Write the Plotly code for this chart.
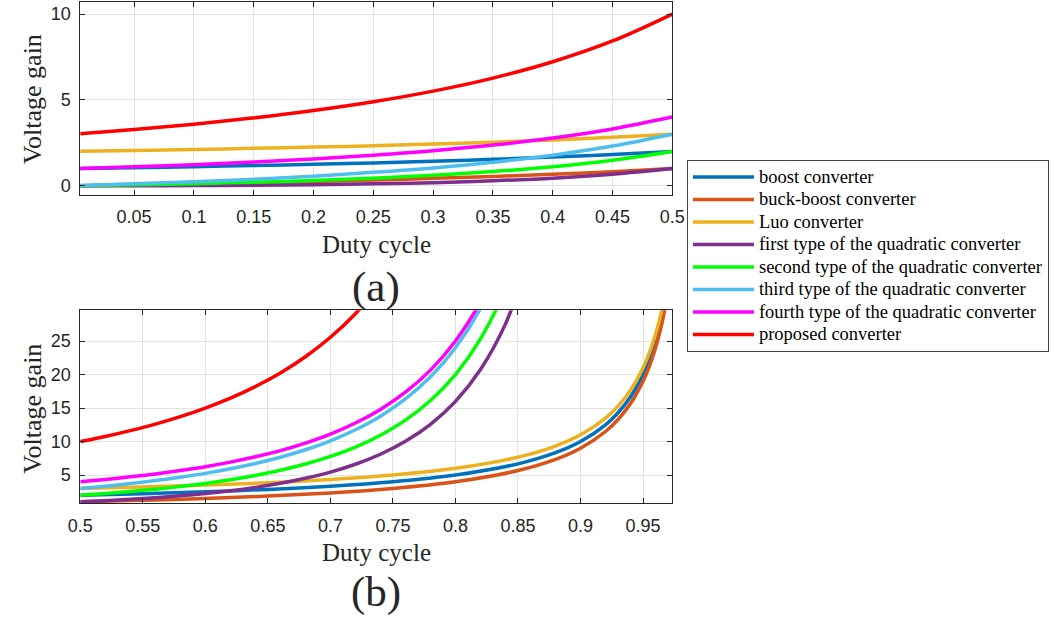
import plotly.graph_objects as go

W, H = 1054, 621

names = ["boost converter", "buck-boost converter", "Luo converter",
         "first type of the quadratic converter", "second type of the quadratic converter",
         "third type of the quadratic converter", "fourth type of the quadratic converter",
         "proposed converter"]
colors = ["#0072BD", "#D95319", "#EDB120", "#7E2F8E", "#00FF00", "#4DBEEE", "#FF00FF", "#FF0000"]

# ---- panel (a): duty cycle 0 .. 0.5 ----
d_a = [0.0, 0.05, 0.10, 0.15, 0.20, 0.25, 0.30, 0.35, 0.40, 0.45, 0.50]
boost_a = [1.00, 1.05, 1.11, 1.18, 1.25, 1.33, 1.43, 1.54, 1.67, 1.82, 2.00]
buckboost_a = [0.00, 0.05, 0.11, 0.18, 0.25, 0.33, 0.43, 0.54, 0.67, 0.82, 1.00]
luo_a = [2.00, 2.05, 2.11, 2.18, 2.25, 2.33, 2.43, 2.54, 2.67, 2.82, 3.00]
quad1_a = [0.00, 0.003, 0.012, 0.031, 0.063, 0.11, 0.18, 0.29, 0.44, 0.67, 1.00]
quad2_a = [0.00, 0.055, 0.12, 0.21, 0.31, 0.44, 0.61, 0.83, 1.11, 1.49, 2.00]
quad3_a = [0.00, 0.11, 0.23, 0.38, 0.56, 0.78, 1.04, 1.37, 1.78, 2.31, 3.00]
quad4_a = [1.00, 1.11, 1.23, 1.38, 1.56, 1.78, 2.04, 2.37, 2.78, 3.31, 4.00]
prop_a = [3.00, 3.27, 3.58, 3.95, 4.38, 4.89, 5.51, 6.27, 7.22, 8.43, 10.00]

# ---- panel (b): duty cycle 0.5 .. 0.97 ----
d_b_basic = [0.50, 0.55, 0.60, 0.65, 0.70, 0.75, 0.80, 0.85, 0.88, 0.90, 0.92, 0.93, 0.94,
             0.95, 0.955, 0.96, 0.965, 0.97]
boost_b = [2.00, 2.22, 2.50, 2.86, 3.33, 4.00, 5.00, 6.67, 8.33, 10.0, 12.5, 14.29, 16.67,
           20.0, 22.22, 25.0, 28.57, 33.33]
buckboost_b = [1.00, 1.22, 1.50, 1.86, 2.33, 3.00, 4.00, 5.67, 7.33, 9.0, 11.5, 13.29, 15.67,
               19.0, 21.22, 24.0, 27.57, 32.33]
luo_b = [3.00, 3.22, 3.50, 3.86, 4.33, 5.00, 6.00, 7.67, 9.33, 11.0, 13.5, 15.29, 17.67,
         21.0, 23.22, 26.0, 29.57, 34.33]

d_b_quad = [0.50, 0.52, 0.54, 0.56, 0.58, 0.60, 0.62, 0.64, 0.66, 0.68, 0.70, 0.72, 0.74,
            0.76, 0.78, 0.80, 0.82, 0.84, 0.86]
quad1_b = [1.00, 1.17, 1.38, 1.62, 1.91, 2.25, 2.66, 3.16, 3.77, 4.52, 5.44, 6.61, 8.10,
           10.03, 12.57, 16.0, 20.75, 27.56, 37.73]
quad2_b = [2.00, 2.26, 2.55, 2.89, 3.29, 3.75, 4.29, 4.94, 5.71, 6.64, 7.78, 9.18, 10.95,
           13.19, 16.12, 20.0, 25.31, 32.81, 43.88]
quad3_b = [3.00, 3.34, 3.73, 4.17, 4.67, 5.25, 5.93, 6.72, 7.65, 8.77, 10.11, 11.76, 13.79,
           16.36, 19.66, 24.0, 29.86, 38.06]
quad4_b = [4.00, 4.34, 4.73, 5.17, 5.67, 6.25, 6.93, 7.72, 8.65, 9.77, 11.11, 12.76, 14.79,
           17.36, 20.66, 25.0, 30.86, 39.06]
d_b_prop = [0.50, 0.52, 0.54, 0.56, 0.58, 0.60, 0.62, 0.64, 0.66, 0.68, 0.70, 0.72, 0.74]
prop_b = [10.0, 10.76, 11.63, 12.60, 13.72, 15.0, 16.48, 18.21, 20.24, 22.66, 25.56, 29.08, 33.43]

xticks_a = [0.05, 0.1, 0.15, 0.2, 0.25, 0.3, 0.35, 0.4, 0.45, 0.5]
xticktext_a = ["0.05", "0.1", "0.15", "0.2", "0.25", "0.3", "0.35", "0.4", "0.45", "0.5"]
yticks_a = [0, 5, 10]
xticks_b = [0.5, 0.55, 0.6, 0.65, 0.7, 0.75, 0.8, 0.85, 0.9, 0.95]
xticktext_b = ["0.5", "0.55", "0.6", "0.65", "0.7", "0.75", "0.8", "0.85", "0.9", "0.95"]
yticks_b = [5, 10, 15, 20, 25]

series_a = [boost_a, buckboost_a, luo_a, quad1_a, quad2_a, quad3_a, quad4_a, prop_a]
series_b = [(d_b_basic, boost_b), (d_b_basic, buckboost_b), (d_b_basic, luo_b),
            (d_b_quad, quad1_b), (d_b_quad, quad2_b), (d_b_quad[:-1], quad3_b),
            (d_b_quad[:-1], quad4_b), (d_b_prop, prop_b)]

SERIF = "Liberation Serif"
SANS = "Liberation Sans"

fig = go.Figure()
LW = 3.5
for i, ys in enumerate(series_a):
    fig.add_trace(go.Scatter(x=d_a, y=ys, mode="lines",
                             name='<span style="font-size:18.5px">' + names[i] + '</span>',
                             line=dict(color=colors[i], width=LW, shape="spline", smoothing=1.0),
                             xaxis="x", yaxis="y", showlegend=True, legendrank=i + 1))
for i, (xs, ys) in enumerate(series_b):
    fig.add_trace(go.Scatter(x=xs, y=ys, mode="lines", name=names[i],
                             line=dict(color=colors[i], width=LW, shape="spline", smoothing=0.8),
                             xaxis="x2", yaxis="y2", showlegend=False))

def px_x(p):
    return p / W

def px_y(p):
    return 1 - p / H

axis_common = dict(showline=True, linecolor="#262626", linewidth=1, mirror="allticks",
                   ticks="inside", ticklen=5, tickcolor="#262626", tickwidth=1,
                   showgrid=True, gridcolor="#e3e3e3", gridwidth=1, zeroline=False,
                   tickfont=dict(family=SANS, size=18, color="#262626"))

fig.update_layout(
    width=W, height=H, margin=dict(l=0, r=0, t=0, b=0),
    paper_bgcolor="white", plot_bgcolor="white",
    font=dict(family=SERIF),
    xaxis=dict(domain=[px_x(69), px_x(676)], range=[0.005, 0.5], anchor="y",
               tickvals=xticks_a, ticktext=xticktext_a, ticklabelstandoff=6, **axis_common),
    yaxis=dict(domain=[px_y(195), px_y(2)], range=[-0.52, 10.7], anchor="x",
               tickvals=yticks_a, ticklabelstandoff=5, **axis_common),
    xaxis2=dict(domain=[px_x(69), px_x(676)], range=[0.5, 0.9734], anchor="y2",
                tickvals=xticks_b, ticktext=xticktext_b, ticklabelstandoff=6, **axis_common),
    yaxis2=dict(domain=[px_y(504), px_y(310.7)], range=[0.8, 29.6], anchor="x2",
                tickvals=yticks_b, ticklabelstandoff=5, **axis_common),
    legend=dict(x=px_x(691), y=px_y(160), xanchor="left", yanchor="top",
                bgcolor="white", bordercolor="#444444", borderwidth=1,
                font=dict(family=SERIF, size=15, color="#000000"),
                itemwidth=61, tracegroupgap=0),
    showlegend=True,
)

cx = px_x(372.5)
anns = [
    dict(text="Duty cycle", x=cx, y=px_y(245), font=dict(size=25)),
    dict(text="(a)", x=cx, y=px_y(287), font=dict(size=43)),
    dict(text="Duty cycle", x=cx, y=px_y(553.5), font=dict(size=25)),
    dict(text="(b)", x=cx, y=px_y(593), font=dict(size=43)),
    dict(text="Voltage gain", x=px_x(20), y=px_y(100), font=dict(size=26), textangle=-90),
    dict(text="Voltage gain", x=px_x(20), y=px_y(410), font=dict(size=26), textangle=-90),
]
for a in anns:
    a["font"].update(family=SERIF, color="#262626")
    fig.add_annotation(xref="paper", yref="paper", xanchor="center", yanchor="middle",
                       showarrow=False, **a)

fig.write_html("out.html")
